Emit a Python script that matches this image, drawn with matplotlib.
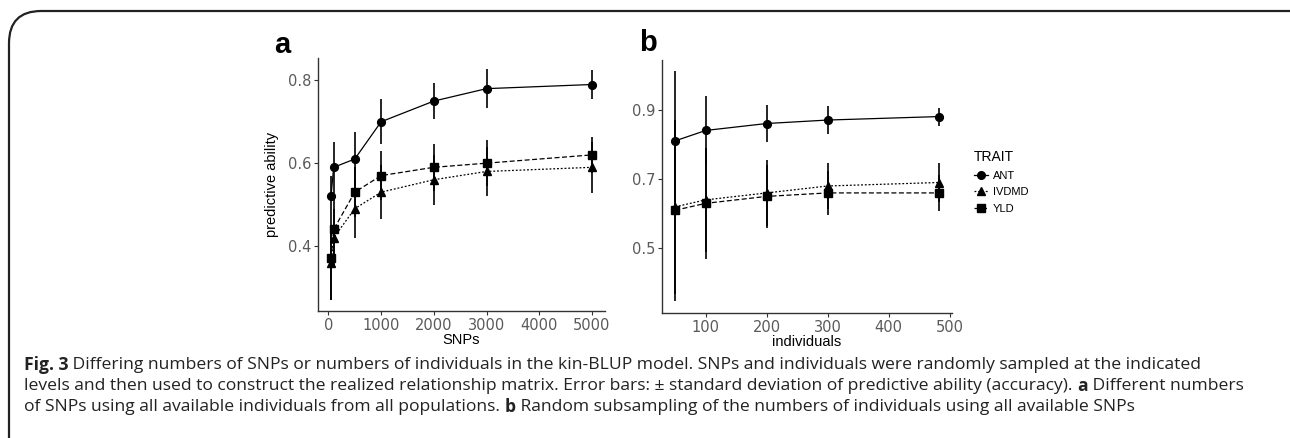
import matplotlib
matplotlib.use('Agg')
import matplotlib.pyplot as plt
from matplotlib.lines import Line2D
from matplotlib.patches import FancyBboxPatch

# panel a: number of SNPs
snps = [50, 100, 500, 1000, 2000, 3000, 5000]
ant_a = [0.52, 0.59, 0.61, 0.70, 0.75, 0.78, 0.79]
ant_a_sd = [0.05, 0.062, 0.065, 0.054, 0.043, 0.047, 0.036]
ivdmd_a = [0.36, 0.42, 0.49, 0.53, 0.56, 0.58, 0.59]
ivdmd_a_sd = [0.09, 0.07, 0.07, 0.065, 0.06, 0.06, 0.062]
yld_a = [0.37, 0.44, 0.53, 0.57, 0.59, 0.60, 0.62]
yld_a_sd = [0.10, 0.08, 0.06, 0.06, 0.056, 0.056, 0.044]

# panel b: number of individuals
indiv = [50, 100, 200, 300, 482]
ant_b = [0.81, 0.84, 0.86, 0.87, 0.88]
ant_b_sd = [0.20, 0.10, 0.052, 0.04, 0.026]
ivdmd_b = [0.62, 0.64, 0.66, 0.68, 0.69]
ivdmd_b_sd = [0.25, 0.15, 0.096, 0.066, 0.056]
yld_b = [0.61, 0.63, 0.65, 0.66, 0.66]
yld_b_sd = [0.26, 0.16, 0.09, 0.063, 0.053]

traits = ['ANT', 'IVDMD', 'YLD']
markers = {'ANT': 'o', 'IVDMD': '^', 'YLD': 's'}
styles = {'ANT': '-', 'IVDMD': (0, (1.5, 1.5)), 'YLD': (0, (4, 2))}

W, H = 1290, 438
fig = plt.figure(figsize=(W / 100, H / 100), dpi=100)

# page frame
frame = FancyBboxPatch((9 / W, -0.1), 1.2, (H - 11) / H + 0.1,
                       boxstyle='round,pad=0,rounding_size=0.025',
                       transform=fig.transFigure, fill=False,
                       ec='#222222', lw=1.6, mutation_aspect=W / H)
fig.patches.append(frame)

tick_font = 'DejaVu Sans'
lab_font = 'Liberation Sans'


def panel(ax, x, series, xlim, ylim, xticks, yticks, xlabel, ylabel):
    for name, (m, sd) in zip(traits, series):
        ax.plot(x, m, color='black', ls=styles[name], lw=0.9)
        ax.errorbar(x, m, yerr=sd, fmt='none', ecolor='black', elinewidth=1.2, capsize=0)
        ax.plot(x, m, ls='none', marker=markers[name], color='black',
                ms=5.8 if name != 'ANT' else 5.6)
    ax.set_xlim(*xlim)
    ax.set_ylim(*ylim)
    ax.set_xticks(xticks)
    ax.set_yticks(yticks)
    ax.spines['top'].set_visible(False)
    ax.spines['right'].set_visible(False)
    for s in ['left', 'bottom']:
        ax.spines[s].set_linewidth(1.0)
        ax.spines[s].set_color('#333333')
    ax.tick_params(length=3, width=0.8, color='#333333', labelcolor='#5a5a5a',
                   labelsize=10.5, pad=2)
    for t in ax.get_xticklabels() + ax.get_yticklabels():
        t.set_fontfamily(tick_font)
    ax.set_xlabel(xlabel, fontsize=10.5, family=lab_font, labelpad=0)
    if ylabel:
        ax.set_ylabel(ylabel, fontsize=10.5, family=lab_font, labelpad=6)


ax1 = fig.add_axes([318 / W, (H - 311) / H, 287 / W, 253 / H])
panel(ax1, snps, [(ant_a, ant_a_sd), (ivdmd_a, ivdmd_a_sd), (yld_a, yld_a_sd)],
      (-197, 5247), (0.243, 0.854), [0, 1000, 2000, 3000, 4000, 5000],
      [0.4, 0.6, 0.8], 'SNPs', 'predictive ability')
ax1.set_yticklabels(['0.4', '0.6', '0.8'])

ax2 = fig.add_axes([662 / W, (H - 313) / H, 290 / W, 253 / H])
panel(ax2, indiv, [(ant_b, ant_b_sd), (ivdmd_b, ivdmd_b_sd), (yld_b, yld_b_sd)],
      (28.4, 503.6), (0.314, 1.043), [100, 200, 300, 400, 500],
      [0.5, 0.7, 0.9], 'individuals', None)
ax2.set_yticklabels(['0.5', '0.7', '0.9'])

fig.text(282 / W, 1 - 45 / H, 'a', fontsize=21, fontweight='bold', family=lab_font,
         ha='center', va='center')
fig.text(648 / W, 1 - 43 / H, 'b', fontsize=21, fontweight='bold', family=lab_font,
         ha='center', va='center')

handles = [Line2D([], [], color='black', ls=styles[n], lw=0.9, marker=markers[n], ms=5.5)
           for n in traits]
leg = fig.legend(handles, traits, loc='upper left', bbox_to_anchor=(964 / W, 1 - 140 / H),
                 frameon=False, title='TRAIT', handlelength=1.3, handletextpad=0.4,
                 labelspacing=0.6, prop={'family': lab_font, 'size': 8},
                 title_fontproperties={'family': lab_font, 'size': 10})
leg._legend_box.align = 'left'

# caption
cap_font = 'Open Sans'
cap_size = 12.6
lines = [
    [('Fig. 3', 'bold'), (' Differing numbers of SNPs or numbers of individuals in the kin-BLUP model. '
                          'SNPs and individuals were randomly sampled at the indicated', 'normal')],
    [('levels and then used to construct the realized relationship matrix. Error bars: \u00b1 standard '
      'deviation of predictive ability (accuracy). ', 'normal'), ('a', 'bold'),
     (' Different numbers', 'normal')],
    [('of SNPs using all available individuals from all populations. ', 'normal'), ('b', 'bold'),
     (' Random subsampling of the numbers of individuals using all available SNPs', 'normal')],
]
line_y = [365, 386, 407]
renderer = fig.canvas.get_renderer()
for parts, yy in zip(lines, line_y):
    x = 24
    for txt, wt in parts:
        t = fig.text(x / W, 1 - yy / H, txt, fontsize=cap_size, fontweight=wt,
                     family=cap_font, color='#222222', va='center', ha='left')
        bb = t.get_window_extent(renderer)
        x += bb.width

fig.savefig('out.png', dpi=100)
